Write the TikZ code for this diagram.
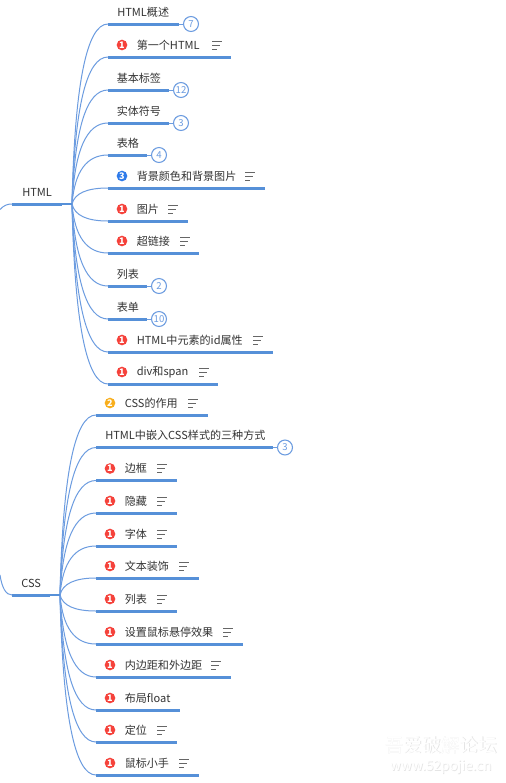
\documentclass[tikz,border=0pt]{standalone}
\usepackage{fontspec}
\setmainfont{Noto Sans CJK SC}
\usetikzlibrary{calc}
\definecolor{linkc}{HTML}{6C9CE0}
\definecolor{barc}{HTML}{5690D8}
\definecolor{txtc}{HTML}{333333}
\definecolor{redb}{HTML}{F5423B}
\definecolor{blueb}{HTML}{2F7BEA}
\definecolor{orab}{HTML}{F8AE1C}
\definecolor{iconc}{HTML}{666666}
\tikzset{
  x=0.75pt,y=-0.75pt,
  bar/.style={draw=barc,line width=2.25pt},
  thin link/.style={draw=linkc,line width=0.75pt},
  stem/.style={draw=barc,line width=1.4pt},
  label/.style={font=\fontsize{8.3pt}{10pt}\selectfont,text=txtc,anchor=west,inner sep=0pt},
  badge/.style={circle,minimum size=8pt,inner sep=0pt,text=white,font=\fontsize{6.8pt}{7pt}\selectfont\bfseries},
  count/.style={circle,draw=linkc,line width=0.8pt,fill=white,minimum size=11.2pt,inner sep=0pt,text=linkc,font=\fontsize{7.2pt}{7pt}\selectfont},
  noteline/.style={draw=iconc,line width=0.6pt},
  wmshadow/.style={text=black!10,inner sep=0pt},
  wmtext/.style={text=white,inner sep=0pt},
}
\newcommand{\twig}[2]{%
  \draw[thin link] (#1) .. controls ($(#1)!0.667!(#1|-#2)+(2.7,0)$) and ($(#2)!0.667!(#1|-#2)+(2.7,0)$) .. (#2);}
\newcommand{\noteicon}[2]{%
  \draw[noteline] (#1,#2-4) -- ++(10,0) (#1,#2) -- ++(8,0) (#1,#2+4) -- ++(5,0);}
\newcommand{\plainrow}[7]{% name,y,xs,xe,hub,textx,text
  \coordinate (#1s) at (#3,#2); \coordinate (#1e) at (#4,#2);
  \twig{#5}{#1s}
  \draw[bar] (#1s) -- (#1e);
  \node[label] (#1t) at (#6,#2-12) {#7};}
\newcommand{\countrow}[8]{% name,y,xs,xe,hub,textx,text,count
  \plainrow{#1}{#2}{#3}{#4}{#5}{#6}{#7}
  \node[count] (#1c) at (#4+12,#2) {#8};
  \draw[thin link] (#1e) -- (#1c);}
\newcommand{\badgerow}[9]{% name,y,xs,xe,hub,badge x,color,num,text
  \plainrow{#1}{#2}{#3}{#4}{#5}{#6+14.5}{#9}
  \node[badge,fill=#7] (#1b) at (#6,#2-12) {#8};}
\begin{document}
\begin{tikzpicture}
\useasboundingbox (0,0) rectangle (506,783);
\fill[white] (0,0) rectangle (506,783);

\coordinate (rootA) at (0,209.5);
\coordinate (htmlStart) at (12,204);
\coordinate (htmlMid) at (62,204);
\coordinate (htmlHub) at (72,204);
\coordinate (cssStart) at (12,595);
\coordinate (cssMid) at (50,595);
\coordinate (cssHub) at (60,595);
\coordinate (rootB) at (0,575);

% HTML branches
\countrow{a}{24}{108}{179}{htmlHub}{117}{HTML概述}{7}
\badgerow{b}{57}{108}{231}{htmlHub}{122}{redb}{1}{第一个HTML}
\countrow{d}{90}{108}{169}{htmlHub}{116.5}{基本标签}{12}
\countrow{e}{123}{108}{169}{htmlHub}{116.5}{实体符号}{3}
\countrow{f}{155}{108}{147}{htmlHub}{116.5}{表格}{4}
\badgerow{g}{188}{108}{265}{htmlHub}{122}{blueb}{3}{背景颜色和背景图片}
\badgerow{h}{221}{108}{188}{htmlHub}{122}{redb}{1}{图片}
\badgerow{i}{253}{108}{199}{htmlHub}{122}{redb}{1}{超链接}
\countrow{j}{286}{108}{147}{htmlHub}{116.5}{列表}{2}
\countrow{k}{319}{108}{147}{htmlHub}{116.5}{表单}{10}
\badgerow{l}{352}{108}{273}{htmlHub}{122}{redb}{1}{HTML中元素的id属性}
\badgerow{m}{384}{108}{218}{htmlHub}{122}{redb}{1}{div和span}

% CSS branches
\badgerow{n}{415}{96}{208}{cssHub}{110}{orab}{2}{CSS的作用}
\countrow{o}{447.5}{96}{273}{cssHub}{105}{HTML中嵌入CSS样式的三种方式}{3}
\badgerow{p}{480.5}{96}{177}{cssHub}{110}{redb}{1}{边框}
\badgerow{q}{513}{96}{177}{cssHub}{110}{redb}{1}{隐藏}
\badgerow{r}{546}{96}{177}{cssHub}{110}{redb}{1}{字体}
\badgerow{s}{578}{96}{199}{cssHub}{110}{redb}{1}{文本装饰}
\badgerow{t}{611}{96}{177}{cssHub}{110}{redb}{1}{列表}
\badgerow{u}{644}{96}{243}{cssHub}{110}{redb}{1}{设置鼠标悬停效果}
\badgerow{v}{677}{96}{231}{cssHub}{110}{redb}{1}{内边距和外边距}
\badgerow{w}{710}{96}{180}{cssHub}{110}{redb}{1}{布局float}
\badgerow{x}{742}{96}{177}{cssHub}{110}{redb}{1}{定位}
\badgerow{y}{775}{96}{199}{cssHub}{110}{redb}{1}{鼠标小手}

% note icons
\noteicon{212}{45}\noteicon{245}{176}\noteicon{168}{209}\noteicon{180}{241}
\noteicon{253}{340}\noteicon{199}{372}
\noteicon{188}{403}\noteicon{157}{468.5}\noteicon{157}{501}\noteicon{157}{534}
\noteicon{179}{566}\noteicon{157}{599}\noteicon{223}{632}\noteicon{211}{665}
\noteicon{157}{730}\noteicon{179}{763}

% main topics
\draw[thin link] (rootA) .. controls (4,205) and (8,204) .. (htmlStart);
\draw[bar] (htmlStart) -- (htmlMid);
\draw[stem] (htmlMid) -- (htmlHub);
\node[label] (htmlt) at (22,192) {HTML};
\draw[thin link] (rootB) .. controls (2,588) and (6,595) .. (cssStart);
\draw[bar] (cssStart) -- (cssMid);
\draw[stem] (cssMid) -- (cssHub);
\node[label] (csst) at (21,583) {CSS};

% watermark
\node[wmshadow,font=\fontsize{14pt}{16pt}\selectfont] (wm1s) at (441.7,745.7) {吾爱破解论坛};
\node[wmtext,font=\fontsize{14pt}{16pt}\selectfont] (wm1) at (441,745) {吾爱破解论坛};
\node[wmshadow,font=\fontsize{10.2pt}{12pt}\selectfont] (wm2s) at (441.7,767.7) {www.52pojie.cn};
\node[wmtext,font=\fontsize{10.2pt}{12pt}\selectfont] (wm2) at (441,767) {www.52pojie.cn};
\end{tikzpicture}
\end{document}
